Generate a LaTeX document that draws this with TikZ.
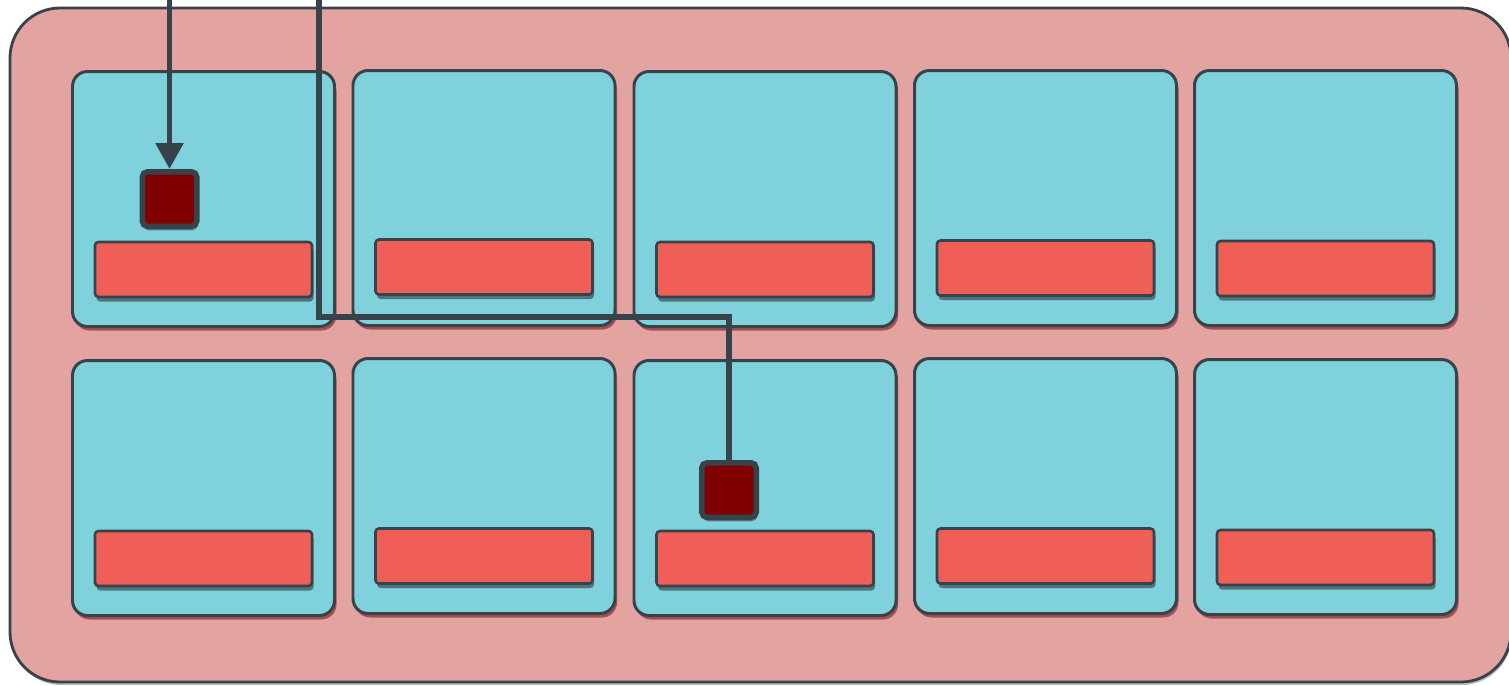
\documentclass[tikz,border=0pt]{standalone}
\usetikzlibrary{arrows.meta,shadows}

\definecolor{trayfill}{HTML}{E2A3A1}
\definecolor{cellfill}{HTML}{7FD2DC}
\definecolor{barfill}{HTML}{F05E58}
\definecolor{chipfill}{HTML}{800000}
\definecolor{edgecol}{HTML}{37424A}

\begin{document}
\begin{tikzpicture}[
  x=1cm,
  y=1cm,
  >={Triangle[width=0.54cm,length=0.52cm]},
  tray/.style={draw=edgecol, line width=1.6pt, fill=trayfill, rounded corners=1cm, minimum width=30.02cm, minimum height=13.48cm, inner sep=0pt,
    drop shadow={shadow xshift=0.02cm, shadow yshift=-0.06cm, fill=black, opacity=0.25}},
  cell/.style={draw=edgecol, line width=1.7pt, fill=cellfill, rounded corners=0.3cm, minimum width=5.24cm, minimum height=5.1cm, inner sep=0pt,
    drop shadow={shadow xshift=0.04cm, shadow yshift=-0.08cm, fill=black!60!red, opacity=0.5}},
  bar/.style={draw=edgecol, line width=1.5pt, fill=barfill, rounded corners=2pt, minimum width=4.34cm, minimum height=1.1cm, inner sep=0pt,
    drop shadow={shadow xshift=0.03cm, shadow yshift=-0.09cm, fill=edgecol, opacity=0.65}},
  chip/.style={draw=edgecol, line width=0.11cm, fill=chipfill, rounded corners=3pt, minimum size=1.09cm, inner sep=0pt,
    drop shadow={shadow xshift=0.02cm, shadow yshift=-0.08cm, fill=edgecol, opacity=0.6}},
  wire/.style={draw=edgecol, line width=3.3pt}
]
  \useasboundingbox (0,0) rectangle (30.18,-13.7);

  \node[tray] (tray) at (15.21,-6.9) {};

  \node[cell] (c11) at (4.07,-3.98) {};
  \node[cell] (c12) at (9.68,-3.96) {};
  \node[cell] (c13) at (15.3,-3.98) {};
  \node[cell] (c14) at (20.91,-3.96) {};
  \node[cell] (c15) at (26.51,-3.96) {};
  \node[cell] (c21) at (4.07,-9.76) {};
  \node[cell] (c22) at (9.68,-9.72) {};
  \node[cell] (c23) at (15.3,-9.76) {};
  \node[cell] (c24) at (20.91,-9.72) {};
  \node[cell] (c25) at (26.51,-9.74) {};

  \node[bar] (b11) at (4.07,-5.39) {};
  \node[bar] (b12) at (9.68,-5.34) {};
  \node[bar] (b13) at (15.3,-5.39) {};
  \node[bar] (b14) at (20.91,-5.36) {};
  \node[bar] (b15) at (26.51,-5.37) {};
  \node[bar] (b21) at (4.07,-11.17) {};
  \node[bar] (b22) at (9.68,-11.12) {};
  \node[bar] (b23) at (15.3,-11.17) {};
  \node[bar] (b24) at (20.91,-11.12) {};
  \node[bar] (b25) at (26.51,-11.15) {};

  \node[chip] (chipA) at (3.39,-3.98) {};
  \node[chip] (chipB) at (14.58,-9.8) {};

  \coordinate (srcA) at (3.39,0);
  \coordinate (srcB) at (6.38,0);

  \draw[wire, ->] (srcA) -- (chipA.north);
  \draw[wire, line width=2.9pt] (srcB) -- ++(0,-6.34) -| (chipB.north);
\end{tikzpicture}
\end{document}
